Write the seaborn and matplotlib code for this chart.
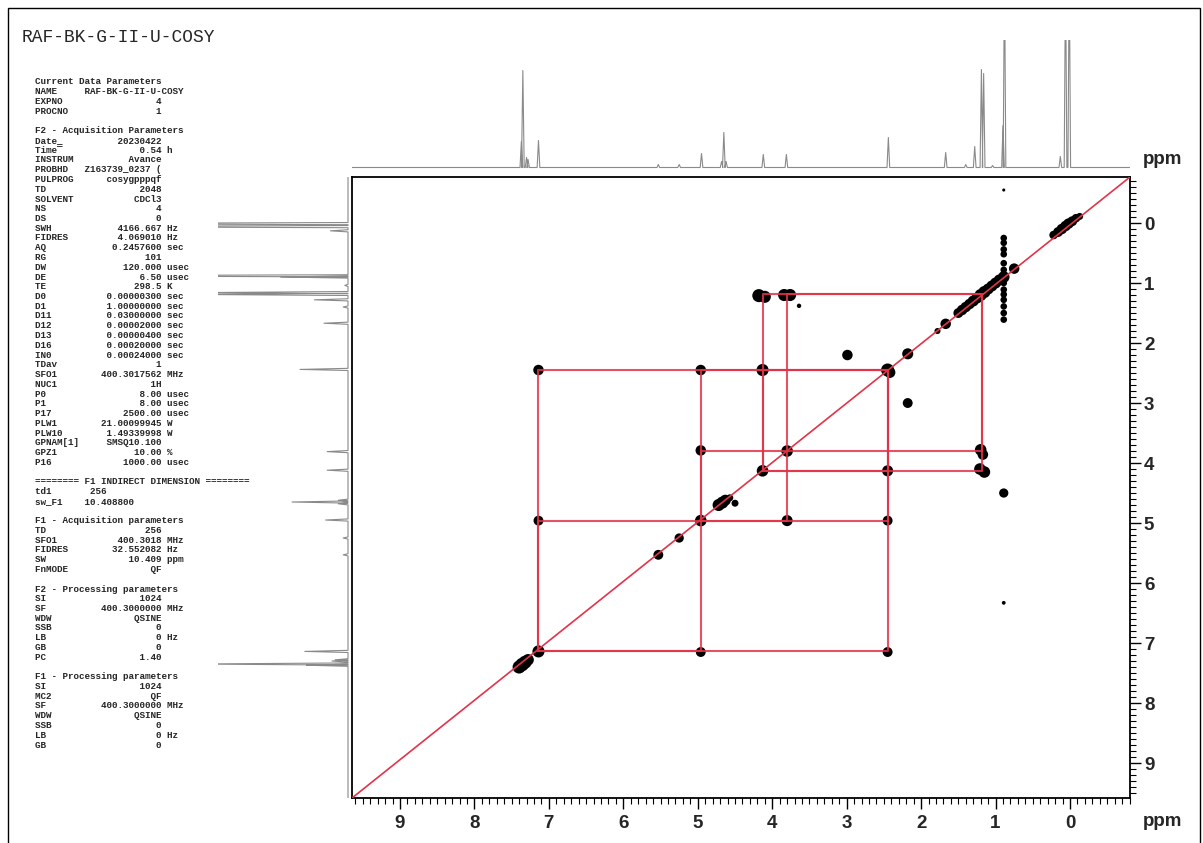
import matplotlib
matplotlib.use("Agg")
import matplotlib.pyplot as plt
import seaborn as sns
import numpy as np
from matplotlib import font_manager
from matplotlib.patches import Rectangle
from matplotlib.ticker import MultipleLocator

W, H = 1203, 843

# 1D proton spectrum (ppm, height in px of the top trace)
peakPpm = [7.37, 7.35, 7.30, 7.28, 7.14, 5.53, 5.25, 4.95, 4.68, 4.65, 4.62,
           4.12, 3.81, 2.44, 1.67, 1.40, 1.28, 1.19, 1.16, 1.04, 0.90, 0.88,
           0.13, 0.06, 0.01]
peakHeight = [26, 97, 10, 8, 27, 3, 3, 14, 6, 35, 6,
              13, 13, 30, 15, 3, 21, 98, 94, 2, 42, 200,
              11, 200, 200]

# 2D contour blobs on (or near) the diagonal: F2, F1, size
diagF2 = [7.40, 7.36, 7.32, 7.28, 7.14, 5.53, 5.25, 4.96, 4.72, 4.67, 4.63, 4.57,
          4.13, 3.80, 2.45, 2.42, 2.18, 1.78, 1.67, 1.50, 1.45, 1.40, 1.35, 1.30,
          1.25, 1.20, 1.15, 1.10, 1.05, 1.00, 0.95, 0.89, 0.75, 0.22, 0.16, 0.11,
          0.06, 0.02, -0.03, -0.08, -0.13]
diagF1 = [7.40, 7.36, 7.32, 7.28, 7.14, 5.53, 5.25, 4.96, 4.70, 4.66, 4.62, 4.58,
          4.13, 3.80, 2.45, 2.49, 2.18, 1.80, 1.68, 1.50, 1.45, 1.40, 1.35, 1.30,
          1.25, 1.20, 1.15, 1.10, 1.05, 1.00, 0.95, 0.90, 0.76, 0.20, 0.15, 0.10,
          0.05, 0.01, -0.03, -0.08, -0.11]
diagSize = [70, 75, 70, 55, 60, 40, 35, 55, 60, 60, 50, 20,
            55, 55, 70, 50, 50, 15, 45, 40, 45, 45, 45, 50,
            50, 60, 60, 50, 50, 50, 50, 55, 45, 30, 40, 45,
            45, 45, 40, 30, 20]

# cross peaks
crossF2 = [4.50, 4.18, 4.10, 3.84, 3.76, 3.64, 2.99, 2.18, 4.13, 7.14, 4.96, 7.14,
           2.45, 4.96, 2.45, 4.96, 3.80, 2.45, 1.20, 1.17, 1.21, 1.15, 0.89, 0.89, 0.89]
crossF1 = [4.67, 1.21, 1.23, 1.20, 1.20, 1.38, 2.20, 3.00, 2.45, 2.45, 2.45, 4.96,
           4.96, 7.15, 7.15, 3.79, 4.96, 4.13, 3.78, 3.86, 4.10, 4.15, 4.50, 6.33, -0.55]
crossSize = [20, 70, 60, 60, 60, 8, 45, 40, 60, 45, 45, 40,
             40, 40, 40, 45, 50, 50, 55, 45, 55, 55, 35, 6, 4]

# t1-noise streak at 0.89 ppm
stripF2 = 0.89
stripF1 = [0.25, 0.33, 0.44, 0.52, 0.67, 0.78, 1.00, 1.11, 1.19, 1.28, 1.39, 1.50, 1.61]
stripSize = 18

# COSY correlations drawn as squares between diagonal and cross peaks
pairA = [7.14, 7.14, 4.96, 4.13, 4.13, 3.80, 4.96]
pairB = [2.45, 4.96, 2.45, 2.45, 1.18, 1.18, 3.80]

axisTicks = [0, 1, 2, 3, 4, 5, 6, 7, 8, 9]

title = "RAF-BK-G-II-U-COSY"


def row(label, value, unit=""):
    return f"{label:<9}{value:>14} {unit}".rstrip()


paramLines = [
    "Current Data Parameters",
    row("NAME", "RAF-BK-G-II-U-COSY"),
    row("EXPNO", "4"),
    row("PROCNO", "1"),
    "",
    "F2 - Acquisition Parameters",
    row("Date_", "20230422"),
    row("Time\u203e", "0.54", "h"),
    row("INSTRUM", "Avance"),
    row("PROBHD", "Z163739_0237 ("),
    row("PULPROG", "cosygpppqf"),
    row("TD", "2048"),
    row("SOLVENT", "CDCl3"),
    row("NS", "4"),
    row("DS", "0"),
    row("SWH", "4166.667", "Hz"),
    row("FIDRES", "4.069010", "Hz"),
    row("AQ", "0.2457600", "sec"),
    row("RG", "101"),
    row("DW", "120.000", "usec"),
    row("DE", "6.50", "usec"),
    row("TE", "298.5", "K"),
    row("D0", "0.00000300", "sec"),
    row("D1", "1.00000000", "sec"),
    row("D11", "0.03000000", "sec"),
    row("D12", "0.00002000", "sec"),
    row("D13", "0.00000400", "sec"),
    row("D16", "0.00020000", "sec"),
    row("IN0", "0.00024000", "sec"),
    row("TDav", "1"),
    row("SFO1", "400.3017562", "MHz"),
    row("NUC1", "1H"),
    row("P0", "8.00", "usec"),
    row("P1", "8.00", "usec"),
    row("P17", "2500.00", "usec"),
    row("PLW1", "21.00099945", "W"),
    row("PLW10", "1.49339998", "W"),
    row("GPNAM[1]", "SMSQ10.100"),
    row("GPZ1", "10.00", "%"),
    row("P16", "1000.00", "usec"),
    "",
    "======== F1 INDIRECT DIMENSION ========",
    "td1       256",
    "sw_F1    10.408800",
    "",
    "F1 - Acquisition parameters",
    row("TD", "256"),
    row("SFO1", "400.3018", "MHz"),
    row("FIDRES", "32.552082", "Hz"),
    row("SW", "10.409", "ppm"),
    row("FnMODE", "QF"),
    "",
    "F2 - Processing parameters",
    row("SI", "1024"),
    row("SF", "400.3000000", "MHz"),
    row("WDW", "QSINE"),
    row("SSB", "0"),
    row("LB", "0", "Hz"),
    row("GB", "0"),
    row("PC", "1.40"),
    "",
    "F1 - Processing parameters",
    row("SI", "1024"),
    row("MC2", "QF"),
    row("SF", "400.3000000", "MHz"),
    row("WDW", "QSINE"),
    row("SSB", "0"),
    row("LB", "0", "Hz"),
    row("GB", "0"),
]


def box(x0, y0, x1, y1):
    return [x0 / W, 1 - y1 / H, (x1 - x0) / W, (y1 - y0) / H]


def trace(ppm, height, hi, lo, w=0.018):
    order = np.argsort(ppm)[::-1]
    xs, ys = [hi], [0.0]
    for i in order:
        xs += [ppm[i] + w, ppm[i], ppm[i] - w]
        ys += [0.0, height[i], 0.0]
    xs.append(lo)
    ys.append(0.0)
    return np.array(xs), np.array(ys)


sns.set_style("white")
available = {f.name for f in font_manager.fontManager.ttflist}
narrow = "Liberation Sans Narrow" in available
tickFamily = "Liberation Sans Narrow" if narrow else "Liberation Sans"
tickSize = 15 if narrow else 13.5
monoFamily = ["Liberation Mono", "DejaVu Sans Mono"]
plt.rcParams["font.family"] = ["Liberation Sans", "DejaVu Sans"]

xLo, xHi = -0.806, 9.645
yTop, yBot = -0.767, 9.583
redCol = "#e3334a"

fig = plt.figure(figsize=(W / 100, H / 100), dpi=100)
ax = fig.add_axes(box(352, 177, 1130, 798))
axTop = fig.add_axes(box(352, 40, 1130, 170))
axLeft = fig.add_axes(box(218, 177, 352, 798))

# top projection
specX, specY = trace(peakPpm, peakHeight, xHi, xLo)
sns.lineplot(x=specX, y=specY, sort=False, estimator=None, ax=axTop,
             color="#8a8a8a", linewidth=0.8)
axTop.set_xlim(xHi, xLo)
axTop.set_ylim(-2.5, 127.5)
axTop.axis("off")

# left projection (same spectrum, larger scale)
leftScale = 1.6
sns.lineplot(x=specY, y=specX, sort=False, estimator=None, orient="y", ax=axLeft,
             color="#8a8a8a", linewidth=0.8)
axLeft.set_xlim(130 / leftScale, -4 / leftScale)
axLeft.set_ylim(yBot, yTop)
axLeft.axis("off")

# 2D map
allF2 = diagF2 + crossF2 + [stripF2] * len(stripF1)
allF1 = diagF1 + crossF1 + stripF1
allSize = diagSize + crossSize + [stripSize] * len(stripF1)
sns.scatterplot(x=allF2, y=allF1, size=allSize, sizes=(5, 95), size_norm=(4, 75),
                color="black", linewidth=0, legend=False, ax=ax, zorder=2)
ax.plot([0, 1], [0, 1], transform=ax.transAxes, color=redCol, lw=1.2, zorder=3)
for a, b in zip(pairA, pairB):
    ax.plot([a, a, b, b, a], [a, b, b, a, a], color=redCol, lw=1.5, alpha=0.85, zorder=3)

ax.set_xlim(xHi, xLo)
ax.set_ylim(yBot, yTop)
ax.set_xticks(axisTicks)
ax.set_yticks(axisTicks)
ax.xaxis.set_minor_locator(MultipleLocator(0.1))
ax.yaxis.set_minor_locator(MultipleLocator(0.1))
ax.xaxis.set_ticks_position("bottom")
ax.yaxis.tick_right()
ax.tick_params(which="major", direction="out", length=8, width=1.0, color="black",
               labelsize=tickSize, pad=4)
ax.tick_params(axis="y", which="major", pad=2)
ax.tick_params(which="minor", direction="out", length=4, width=0.8, color="black")
for lbl in ax.get_xticklabels() + ax.get_yticklabels():
    lbl.set_fontfamily(tickFamily)
    lbl.set_fontweight("bold")
ax.set_xlabel("")
ax.set_ylabel("")
for sp in ax.spines.values():
    sp.set_visible(True)
    sp.set_color("black")
    sp.set_linewidth(1.3)

fig.text(1163 / W, 1 - 822 / H, "ppm", ha="center", va="center", family=tickFamily,
         weight="bold", size=tickSize)
fig.text(1163 / W, 1 - 160 / H, "ppm", ha="center", va="center", family=tickFamily,
         weight="bold", size=tickSize)

# parameter listing
fig.text(22 / W, 1 - 37 / H, title, ha="left", va="center", family=monoFamily, size=12.9)
for i, line in enumerate(paramLines):
    if line:
        fig.text(35 / W, 1 - (82 + i * 9.75) / H, line, ha="left", va="center",
                 family=monoFamily, size=6.68, weight="bold")

fig.add_artist(Rectangle((8 / W, -0.01), 1 - 11 / W, 1 - 8 / H + 0.01, fill=False,
                         lw=1.0, edgecolor="black", transform=fig.transFigure))

fig.savefig("out.png", dpi=100)
